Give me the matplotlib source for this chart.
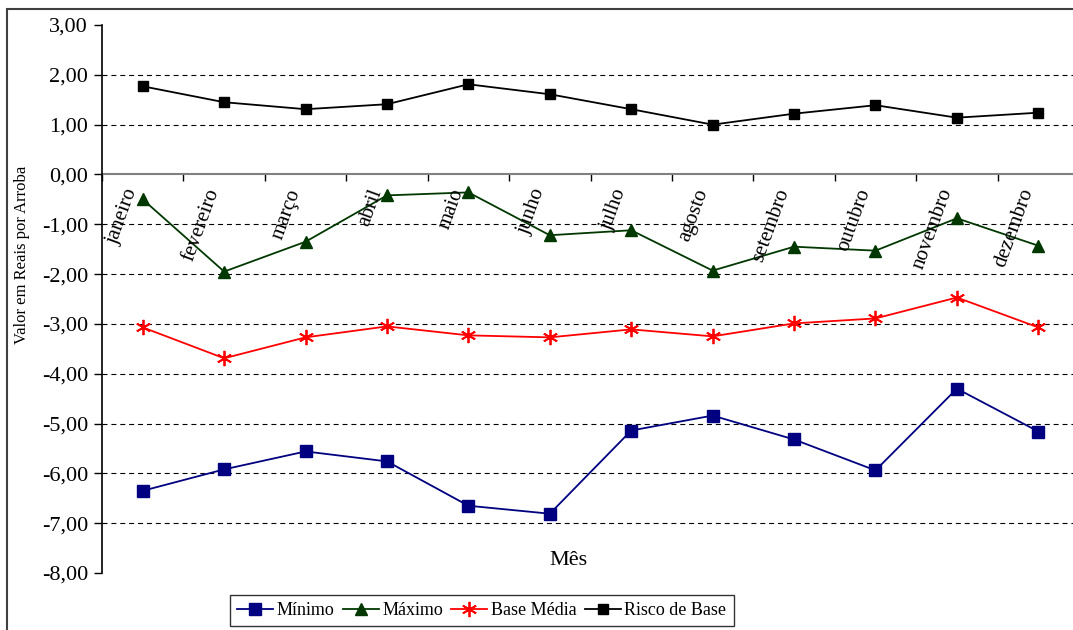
import matplotlib
matplotlib.use("Agg")
import matplotlib.pyplot as plt
from matplotlib.patches import Rectangle
from matplotlib.ticker import FuncFormatter

# dados
meses = ["janeiro", "fevereiro", "março", "abril", "maio", "junho",
         "julho", "agosto", "setembro", "outubro", "novembro", "dezembro"]
minimo = [-6.35, -5.92, -5.56, -5.76, -6.65, -6.81, -5.14, -4.84, -5.32, -5.94, -4.30, -5.16]
maximo = [-0.50, -1.95, -1.35, -0.42, -0.36, -1.22, -1.12, -1.93, -1.45, -1.53, -0.88, -1.43]
base_media = [-3.07, -3.69, -3.27, -3.05, -3.23, -3.27, -3.11, -3.25, -2.99, -2.89, -2.47, -3.07]
risco_base = [1.77, 1.45, 1.31, 1.41, 1.81, 1.61, 1.31, 1.00, 1.22, 1.39, 1.14, 1.24]
y_ticks = list(range(3, -9, -1))

plt.rcParams['font.family'] = ['Liberation Serif', 'DejaVu Serif']

fig = plt.figure(figsize=(10.73, 6.3), dpi=100)
ax = fig.add_axes([0.0951, 0.0905, 0.9105, 0.8698])

x = list(range(len(meses)))

# linhas de grade
for v in y_ticks:
    if v in (0, 3):
        continue
    if v == -8:
        ax.axhline(v, color='#dddddd', lw=0.8, ls=(0, (4.5, 3.5)), zorder=1)
    else:
        ax.axhline(v, color='black', lw=0.8, ls=(0, (4.5, 3.5)), zorder=1)

ax.plot(x, minimo, color='#000080', lw=1.3, marker='s', markersize=8, label='Mínimo', zorder=3)
ax.plot(x, maximo, color='#003800', lw=1.3, marker='^', markersize=9, label='Máximo', zorder=3)
ax.plot(x, base_media, color='red', lw=1.3, marker=(6, 2, 0), markersize=11,
        markeredgewidth=1.3, label='Base Média', zorder=3)
ax.plot(x, risco_base, color='black', lw=1.3, marker='s', markersize=6.5, label='Risco de Base', zorder=3)

ax.set_xlim(-0.5, 11.5)
ax.set_ylim(-8, 3)

ax.set_yticks(y_ticks)
ax.yaxis.set_major_formatter(FuncFormatter(lambda v, p: f"{v:.2f}".replace('.', ',')))
ax.tick_params(axis='y', direction='out', length=6, width=1, labelsize=16, pad=4)

ax.spines['top'].set_visible(False)
ax.spines['right'].set_visible(False)
ax.spines['left'].set_linewidth(1.2)
ax.spines['bottom'].set_position(('data', 0))
ax.spines['bottom'].set_color('#808080')
ax.spines['bottom'].set_linewidth(1.5)
ax.spines['bottom'].set_zorder(2)
ax.set_xticks([i - 0.5 for i in range(len(meses) + 1)])
ax.set_xticklabels([])
ax.tick_params(axis='x', direction='out', length=5, width=1, color='black')

for i, m in enumerate(meses):
    ax.text(i - 0.12, -0.3, m, rotation=70, rotation_mode='anchor',
            ha='right', va='center', fontsize=15)

ax.text(5.23, -7.75, 'Mês', ha='center', va='center', fontsize=16)

fig.text(0.0205, 0.595, 'Valor em Reais por Arroba', rotation=90,
         ha='center', va='center', fontsize=12)

leg = fig.legend(loc='center', bbox_to_anchor=(0.449, 0.031), ncol=4, fontsize=13,
                 frameon=True, fancybox=False, edgecolor='black', handlelength=2.0,
                 handletextpad=0.2, columnspacing=0.45, borderpad=0.4)
leg.get_frame().set_linewidth(1.0)

# borda da área do gráfico
fig.patches.append(Rectangle((0.0065, -0.05), 1.2, 1.0357, transform=fig.transFigure,
                             fill=False, edgecolor='#404040', lw=1.5))

fig.savefig('out.png', dpi=100)
